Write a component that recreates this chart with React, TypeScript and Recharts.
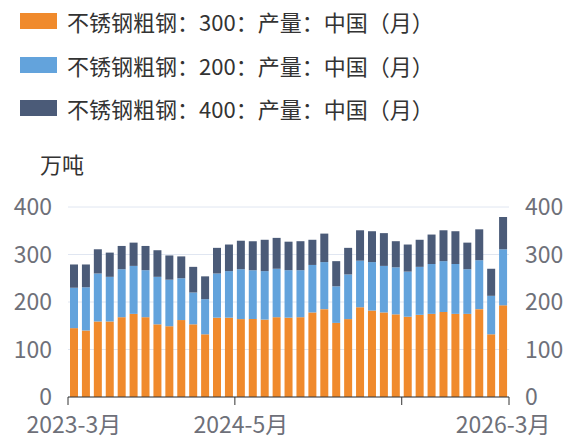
import React from "react";
import { ComposedChart, Bar, Line, XAxis, YAxis, CartesianGrid } from "recharts";

const months = [
  "2023-3月", "2023-4月", "2023-5月", "2023-6月", "2023-7月", "2023-8月",
  "2023-9月", "2023-10月", "2023-11月", "2023-12月", "2024-1月", "2024-2月",
  "2024-3月", "2024-4月", "2024-5月", "2024-6月", "2024-7月", "2024-8月",
  "2024-9月", "2024-10月", "2024-11月", "2024-12月", "2025-1月", "2025-2月",
  "2025-3月", "2025-4月", "2025-5月", "2025-6月", "2025-7月", "2025-8月",
  "2025-9月", "2025-10月", "2025-11月", "2025-12月", "2026-1月", "2026-2月",
  "2026-3月",
];

const steel300 = [
  145, 140, 159, 159, 168, 175, 168, 153, 149, 162, 153, 132, 167, 167, 164,
  164, 163, 168, 167, 168, 178, 185, 156, 164, 189, 182, 178, 174, 169, 173,
  175, 179, 175, 175, 185, 132, 193,
];

const steel200 = [
  85, 91, 101, 94, 101, 101, 99, 100, 98, 88, 67, 74, 93, 98, 105, 103, 102,
  102, 100, 99, 100, 99, 77, 94, 98, 102, 98, 99, 95, 101, 105, 107, 105, 94,
  103, 81, 118,
];

const steel400 = [
  49, 48, 51, 51, 49, 49, 51, 56, 51, 46, 54, 48, 54, 56, 60, 61, 66, 65, 60,
  61, 53, 60, 53, 56, 64, 65, 69, 55, 57, 57, 62, 65, 69, 56, 65, 57, 68,
];

const yTicks = [0, 100, 200, 300, 400];
const tickMarks = ["2023-3月", "2024-5月", "2025-7月"];
const tickLabels = ["2023-3月", "2024-5月", "2026-3月"];

const series = [
  { key: "s300", name: "不锈钢粗钢：300：产量：中国（月）", color: "#F08A2C" },
  { key: "s200", name: "不锈钢粗钢：200：产量：中国（月）", color: "#63A3DC" },
  { key: "s400", name: "不锈钢粗钢：400：产量：中国（月）", color: "#4B5B78" },
];

const data = months.map((m, i) => ({
  month: m,
  s300: steel300[i],
  s200: steel200[i],
  s400: steel400[i],
}));

const FONT = '"Noto Sans CJK SC", "Noto Sans", sans-serif';
const lastMonth = months[months.length - 1];

function XTick(props: any) {
  const { x, y, payload } = props;
  const half = payload.offset || 441 / months.length / 2;
  const v = payload.value;
  return (
    <g>
      {tickMarks.includes(v) && (
        <line x1={x - half} x2={x - half} y1={y} y2={y + 8} stroke="#333" />
      )}
      {v === lastMonth && (
        <line x1={x + half} x2={x + half} y1={y} y2={y + 8} stroke="#333" />
      )}
      {tickLabels.includes(v) && (
        <text
          x={x}
          y={y + 36}
          textAnchor="middle"
          fill="#6E7079"
          fontSize={23}
          fontFamily={FONT}
        >
          {v}
        </text>
      )}
    </g>
  );
}

const yTickStyle = { fill: "#6E7079", fontSize: 23, fontFamily: FONT };

export default function App() {
  return (
    <div
      style={{
        position: "absolute",
        left: 0,
        top: 0,
        width: 568,
        height: 439,
        background: "#fff",
        fontFamily: FONT,
      }}
    >
      {series.map((s, i) => (
        <div
          key={s.key}
          style={{
            position: "absolute",
            left: 20,
            top: 7 + i * 43.5,
            height: 28,
            display: "flex",
            alignItems: "center",
            fontSize: 22,
            color: "#333",
            whiteSpace: "nowrap",
          }}
        >
          <span
            style={{
              display: "inline-block",
              width: 37,
              height: 16,
              background: s.color,
              marginRight: 10,
            }}
          />
          {s.name}
        </div>
      ))}
      <div
        style={{
          position: "absolute",
          left: 40,
          top: 147,
          fontSize: 22,
          color: "#333",
        }}
      >
        万吨
      </div>
      <ComposedChart
        width={568}
        height={439}
        data={data}
        margin={{ top: 207, right: 0, bottom: 0, left: 0 }}
        barSize={8}
      >
        <CartesianGrid vertical={false} stroke="#E0E6F1" yAxisId="left" />
        <XAxis
          dataKey="month"
          height={42}
          ticks={[...tickMarks, lastMonth]}
          interval={0}
          tickSize={0}
          tickMargin={0}
          tick={<XTick />}
          axisLine={{ stroke: "#333" }}
        />
        <YAxis
          yAxisId="left"
          width={68}
          domain={[0, 400]}
          ticks={yTicks}
          axisLine={false}
          tickLine={false}
          tickSize={0}
          tickMargin={16}
          tick={yTickStyle}
        />
        <YAxis
          yAxisId="right"
          orientation="right"
          width={59}
          domain={[0, 400]}
          ticks={yTicks}
          axisLine={false}
          tickLine={false}
          tickSize={0}
          tickMargin={16}
          tick={{ ...yTickStyle, textAnchor: "start" }}
        />
        {series.map((s) => (
          <Bar
            key={s.key}
            yAxisId="left"
            dataKey={s.key}
            stackId="a"
            fill={s.color}
            isAnimationActive={false}
          />
        ))}
        <Line
          yAxisId="right"
          dataKey="s300"
          stroke="none"
          dot={false}
          activeDot={false}
          legendType="none"
          isAnimationActive={false}
        />
      </ComposedChart>
    </div>
  );
}
